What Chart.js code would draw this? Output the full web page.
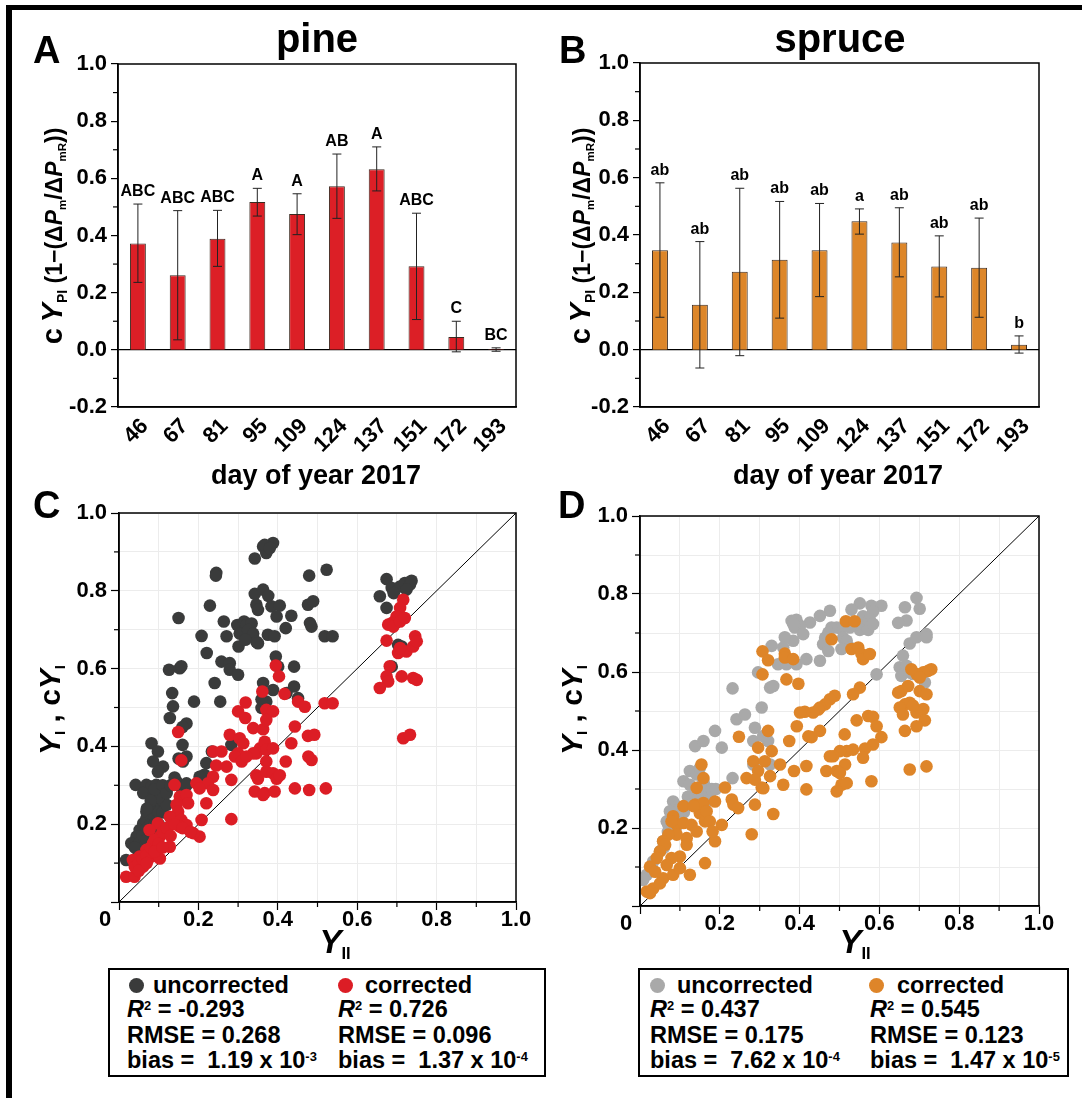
<!DOCTYPE html>
<html>
<head>
<meta charset="utf-8">
<script src="https://cdn.jsdelivr.net/npm/chart.js@4.4.1/dist/chart.umd.min.js"></script>
<style>
  html, body { margin:0; padding:0; background:#fff; }
  body { width:1082px; height:1098px; position:relative; overflow:hidden; }
  canvas { position:absolute; }
  .t { position:absolute; font-family:'Liberation Sans', Arial, sans-serif; font-weight:bold; white-space:nowrap; line-height:1; color:#000; }
  .sub { font-size:0.5em; position:relative; top:0.35em; }
  .sup { font-size:0.55em; position:relative; top:-0.55em; }
  .box { position:absolute; border:2px solid #000; box-sizing:border-box; }
  .dot { position:absolute; width:15px; height:15px; border-radius:50%; }
</style>
</head>
<body>
<div style="position:absolute;left:6px;top:5px;width:1076px;height:5px;background:#000"></div>
<div style="position:absolute;left:6px;top:5px;width:6px;height:1093px;background:#000"></div>

<canvas id="cA" width="540" height="460" style="left:0;top:0"></canvas>
<canvas id="cB" width="542" height="460" style="left:540px;top:0"></canvas>
<canvas id="cC" width="540" height="470" style="left:0;top:470px"></canvas>
<canvas id="cD" width="542" height="470" style="left:540px;top:470px"></canvas>

<!-- panel letters and titles -->
<div class="t" style="left:33px;top:31px;font-size:38px">A</div>
<div class="t" style="left:559px;top:31px;font-size:38px">B</div>
<div class="t" style="left:33px;top:486px;font-size:38px">C</div>
<div class="t" style="left:558px;top:486px;font-size:38px">D</div>
<div class="t" style="left:317px;top:18px;font-size:40px;transform:translateX(-50%)">pine</div>
<div class="t" style="left:840px;top:18px;font-size:40px;transform:translateX(-50%)">spruce</div>
<div class="t" style="left:316px;top:462px;font-size:27px;transform:translateX(-50%)">day of year 2017</div>
<div class="t" style="left:838px;top:462px;font-size:27px;transform:translateX(-50%)">day of year 2017</div>

<!-- y titles bars -->
<div class="t" style="left:52px;top:236px;font-size:23px;transform:translate(-50%,-50%) rotate(-90deg)"><span style="font-size:29px">c&thinsp;<i>Y</i></span><span style="font-size:14px;position:relative;top:5px">PI</span> (1&minus;(&Delta;<i>P</i><span class="sub">m</span>/&Delta;<i>P</i><span class="sub">mR</span>))</div>
<div class="t" style="left:580px;top:236px;font-size:23px;transform:translate(-50%,-50%) rotate(-90deg)"><span style="font-size:29px">c&thinsp;<i>Y</i></span><span style="font-size:14px;position:relative;top:5px">PI</span> (1&minus;(&Delta;<i>P</i><span class="sub">m</span>/&Delta;<i>P</i><span class="sub">mR</span>))</div>

<!-- scatter titles -->
<div class="t" style="left:50px;top:710px;font-size:30px;transform:translate(-50%,-50%) rotate(-90deg)"><i>Y</i><span class="sub">I</span> , c<i>Y</i><span class="sub">I</span></div>
<div class="t" style="left:572px;top:710px;font-size:30px;transform:translate(-50%,-50%) rotate(-90deg)"><i>Y</i><span class="sub">I</span> , c<i>Y</i><span class="sub">I</span></div>
<div class="t" style="left:335px;top:925px;font-size:33px;transform:translateX(-50%)"><i>Y</i><span class="sub">II</span></div>
<div class="t" style="left:855px;top:925px;font-size:33px;transform:translateX(-50%)"><i>Y</i><span class="sub">II</span></div>

<!-- legends -->
<div class="box" style="left:108px;top:968px;width:438px;height:109px"></div>
<div class="dot" style="left:129px;top:978px;background:#3a3b3b"></div>
<div class="t" style="left:153px;top:974px;font-size:23.5px">uncorrected</div>
<div class="t" style="left:127px;top:998px;font-size:23.5px"><i>R</i><span class="sup">2</span> = -0.293</div>
<div class="t" style="left:127px;top:1024px;font-size:23.5px">RMSE = 0.268</div>
<div class="t" style="left:127px;top:1049px;font-size:23.5px">bias = &nbsp;1.19 x 10<span class="sup">-3</span></div>
<div class="dot" style="left:338px;top:978px;background:#dc1d25"></div>
<div class="t" style="left:365px;top:974px;font-size:23.5px">corrected</div>
<div class="t" style="left:338px;top:998px;font-size:23.5px"><i>R</i><span class="sup">2</span> = 0.726</div>
<div class="t" style="left:338px;top:1024px;font-size:23.5px">RMSE = 0.096</div>
<div class="t" style="left:338px;top:1049px;font-size:23.5px">bias = &nbsp;1.37 x 10<span class="sup">-4</span></div>

<div class="box" style="left:638px;top:968px;width:431px;height:109px"></div>
<div class="dot" style="left:650px;top:978px;background:#a9a9a9"></div>
<div class="t" style="left:677px;top:974px;font-size:23.5px">uncorrected</div>
<div class="t" style="left:650px;top:998px;font-size:23.5px"><i>R</i><span class="sup">2</span> = 0.437</div>
<div class="t" style="left:650px;top:1024px;font-size:23.5px">RMSE = 0.175</div>
<div class="t" style="left:650px;top:1049px;font-size:23.5px">bias = &nbsp;7.62 x 10<span class="sup">-4</span></div>
<div class="dot" style="left:869px;top:978px;background:#de8529"></div>
<div class="t" style="left:897px;top:974px;font-size:23.5px">corrected</div>
<div class="t" style="left:870px;top:998px;font-size:23.5px"><i>R</i><span class="sup">2</span> = 0.545</div>
<div class="t" style="left:870px;top:1024px;font-size:23.5px">RMSE = 0.123</div>
<div class="t" style="left:870px;top:1049px;font-size:23.5px">bias = &nbsp;1.47 x 10<span class="sup">-5</span></div>

<script>
// ---------------- DATA ----------------
const days = ['46','67','81','95','109','124','137','151','172','193'];

const pineMean = [0.372, 0.261, 0.389, 0.517, 0.475, 0.572, 0.632, 0.292, 0.045, 0.003];
const pineHigh = [0.510, 0.487, 0.488, 0.565, 0.546, 0.685, 0.710, 0.478, 0.100, 0.007];
const pineLow  = [0.236, 0.035, 0.292, 0.468, 0.403, 0.460, 0.556, 0.106, -0.007, -0.005];
const pineLetters = ['ABC','ABC','ABC','A','A','AB','A','ABC','C','BC'];

const spruceMean = [0.347, 0.157, 0.272, 0.314, 0.347, 0.448, 0.374, 0.290, 0.286, 0.017];
const spruceHigh = [0.582, 0.377, 0.563, 0.517, 0.510, 0.491, 0.495, 0.397, 0.459, 0.048];
const spruceLow  = [0.113, -0.064, -0.021, 0.110, 0.185, 0.403, 0.254, 0.184, 0.113, -0.012];
const spruceLetters = ['ab','ab','ab','ab','ab','a','ab','ab','ab','b'];

const yBarTicks = [-0.2, 0.0, 0.2, 0.4, 0.6, 0.8, 1.0];
const scatterTicks = [0, 0.2, 0.4, 0.6, 0.8, 1.0];
const oneToOne = [[0,0],[1,1]];

const pineUncorr = [
[0.342,0.883],[0.363,0.914],[0.371,0.897],[0.388,0.923],[0.367,0.918],[0.380,0.910],
[0.245,0.846],[0.244,0.839],[0.479,0.839],[0.523,0.854],[0.229,0.762],[0.150,0.730],
[0.342,0.792],[0.363,0.803],[0.376,0.787],[0.346,0.764],[0.350,0.751],
[0.384,0.760],[0.405,0.762],[0.397,0.734],[0.434,0.736],
[0.476,0.764],[0.489,0.773],[0.481,0.717],[0.485,0.708],[0.420,0.704],
[0.264,0.721],[0.271,0.683],[0.208,0.684],[0.221,0.640],
[0.298,0.712],[0.315,0.721],[0.321,0.712],[0.334,0.716],[0.304,0.690],[0.325,0.699],[0.338,0.690],[0.346,0.669],[0.350,0.665],
[0.301,0.657],[0.318,0.674],[0.375,0.687],[0.392,0.683],[0.518,0.683],[0.538,0.683],
[0.258,0.618],[0.279,0.614],[0.279,0.597],[0.300,0.584],
[0.395,0.631],[0.401,0.605],[0.441,0.605],
[0.126,0.597],[0.153,0.601],[0.157,0.606],
[0.241,0.563],[0.363,0.563],[0.388,0.545],[0.441,0.554],[0.422,0.537],[0.451,0.524],
[0.134,0.537],[0.189,0.515],[0.255,0.515],
[0.136,0.503],[0.128,0.473],[0.170,0.459],[0.160,0.450],
[0.359,0.499],[0.371,0.515],[0.359,0.521],
[0.160,0.404],[0.170,0.374],[0.150,0.369],[0.161,0.361],
[0.082,0.408],[0.098,0.387],[0.086,0.361],[0.111,0.348],[0.098,0.335],[0.114,0.284],
[0.234,0.387],[0.283,0.404],[0.220,0.357],[0.215,0.327],[0.203,0.322],
[0.042,0.301],[0.069,0.301],[0.082,0.297],[0.094,0.301],[0.103,0.288],[0.119,0.284],[0.061,0.280],[0.086,0.271],
[0.145,0.310],[0.170,0.305],
[0.103,0.254],[0.086,0.241],[0.098,0.232],[0.069,0.232],
[0.069,0.215],[0.082,0.211],[0.061,0.202],[0.052,0.185],[0.044,0.168],[0.031,0.151],[0.018,0.108],
[0.674,0.830],[0.657,0.786],[0.674,0.756],[0.687,0.807],[0.708,0.811],[0.720,0.820],[0.733,0.816],[0.737,0.826],[0.692,0.794],[0.724,0.803],
[0.703,0.661],[0.712,0.657],[0.687,0.605],
[0.05,0.15],[0.06,0.17],[0.07,0.19],[0.08,0.20],[0.09,0.22],[0.10,0.23],[0.06,0.13],[0.07,0.16],[0.08,0.18],[0.09,0.20],[0.10,0.20],[0.11,0.23],
[0.05,0.12],[0.04,0.14],[0.12,0.25],[0.10,0.27],[0.09,0.29],[0.08,0.26],[0.07,0.24],[0.11,0.30],[0.12,0.28],[0.13,0.30],[0.14,0.32],[0.15,0.30],[0.16,0.28],[0.17,0.30]
];

const pineCorr = [
[0.716,0.777],[0.708,0.756],[0.699,0.734],[0.687,0.717],[0.678,0.713],[0.691,0.708],[0.708,0.721],[0.720,0.730],
[0.674,0.672],[0.703,0.640],[0.724,0.644],[0.741,0.657],[0.746,0.683],[0.750,0.670],[0.708,0.653],
[0.682,0.606],[0.674,0.580],[0.678,0.567],[0.657,0.550],[0.712,0.580],[0.741,0.576],[0.750,0.571],
[0.716,0.421],[0.733,0.430],[0.395,0.608],[0.403,0.580],
[0.361,0.541],[0.417,0.535],[0.451,0.515],[0.468,0.502],[0.518,0.511],[0.538,0.511],
[0.319,0.513],[0.300,0.490],[0.318,0.473],[0.371,0.494],[0.388,0.490],
[0.338,0.447],[0.363,0.444],[0.371,0.468],[0.443,0.451],
[0.279,0.430],[0.304,0.421],[0.313,0.408],[0.300,0.382],[0.292,0.374],[0.309,0.361],
[0.355,0.395],[0.346,0.382],[0.367,0.412],[0.371,0.391],[0.338,0.382],[0.321,0.374],[0.388,0.395],
[0.476,0.427],[0.492,0.430],[0.434,0.408],[0.477,0.374],[0.485,0.365],
[0.371,0.361],[0.420,0.361],[0.346,0.326],[0.350,0.317],[0.371,0.335],[0.388,0.331],[0.397,0.317],[0.405,0.326],
[0.342,0.284],[0.367,0.280],[0.392,0.284],[0.363,0.275],[0.443,0.292],[0.479,0.288],[0.521,0.292],
[0.283,0.213],[0.149,0.437],[0.157,0.364],
[0.237,0.387],[0.258,0.387],[0.271,0.348],[0.283,0.314],[0.245,0.351],[0.237,0.322],[0.224,0.305],[0.237,0.288],[0.220,0.254],
[0.195,0.305],[0.203,0.292],[0.208,0.211],[0.203,0.168],
[0.140,0.301],[0.153,0.271],[0.170,0.275],[0.174,0.254],[0.145,0.250],
[0.149,0.232],[0.128,0.219],[0.157,0.211],[0.170,0.198],[0.153,0.194],[0.187,0.177],[0.128,0.142],
[0.098,0.202],[0.077,0.185],[0.103,0.168],[0.086,0.151],[0.069,0.134],[0.052,0.117],[0.035,0.108],[0.018,0.065],[0.039,0.065],[0.061,0.091],[0.082,0.117],[0.094,0.125],[0.103,0.112],
[0.04,0.09],[0.05,0.10],[0.06,0.11],[0.07,0.12],[0.08,0.14],[0.09,0.16],[0.10,0.15],[0.11,0.18],[0.12,0.19],[0.14,0.20],[0.16,0.19],[0.18,0.18],[0.05,0.08],[0.07,0.10],[0.09,0.13],[0.11,0.14],[0.13,0.17]
];

const spruceUncorr = [
[0.693,0.790],[0.701,0.762],[0.664,0.766],[0.668,0.732],[0.647,0.726],[0.676,0.673],[0.693,0.689],[0.718,0.697],[0.718,0.689],
[0.659,0.642],[0.651,0.612],[0.655,0.590],[0.668,0.616],[0.676,0.599],[0.684,0.595],[0.714,0.573],[0.593,0.594],
[0.605,0.770],[0.580,0.770],[0.584,0.755],[0.551,0.776],[0.530,0.760],[0.559,0.743],[0.576,0.734],[0.564,0.721],[0.551,0.708],[0.543,0.723],[0.572,0.708],[0.584,0.723],
[0.526,0.714],[0.505,0.710],[0.493,0.714],[0.480,0.714],[0.472,0.701],[0.464,0.688],[0.509,0.688],[0.518,0.680],[0.505,0.659],[0.526,0.663],
[0.476,0.757],[0.451,0.744],[0.426,0.727],[0.401,0.719],[0.388,0.714],[0.380,0.731],[0.392,0.734],[0.384,0.723],
[0.409,0.697],[0.384,0.680],[0.363,0.689],[0.359,0.663],[0.346,0.620],[0.367,0.620],[0.392,0.620],[0.417,0.633],[0.451,0.629],[0.459,0.671],[0.472,0.654],
[0.330,0.667],[0.326,0.560],[0.334,0.564],[0.296,0.599],[0.305,0.509],
[0.232,0.558],[0.242,0.479],[0.263,0.491],[0.188,0.449],[0.205,0.406],
[0.288,0.457],[0.284,0.423],[0.309,0.436],[0.321,0.423],[0.284,0.363],[0.326,0.363],
[0.138,0.410],[0.159,0.423],[0.232,0.328],
[0.125,0.346],[0.142,0.337],[0.150,0.354],[0.109,0.320],[0.125,0.311],[0.142,0.294],[0.159,0.320],[0.167,0.303],[0.179,0.294],[0.175,0.277],
[0.083,0.268],[0.092,0.256],[0.075,0.243],[0.067,0.217],[0.071,0.208],[0.058,0.166],[0.033,0.114],[0.017,0.080],[0.008,0.067],
[0.10,0.25],[0.12,0.28],[0.14,0.30],[0.16,0.31],[0.18,0.30],[0.09,0.20],[0.10,0.22],[0.11,0.24],[0.13,0.26],[0.15,0.28],[0.17,0.27],
[0.05,0.14],[0.06,0.15],[0.07,0.19],[0.08,0.21],[0.19,0.30]
];

const spruceCorr = [
[0.730,0.607],[0.722,0.603],[0.710,0.599],[0.693,0.595],[0.680,0.607],[0.701,0.586],[0.672,0.564],[0.655,0.551],[0.647,0.547],
[0.701,0.551],[0.718,0.543],[0.710,0.505],[0.693,0.496],[0.676,0.521],[0.664,0.517],[0.651,0.509],[0.659,0.491],[0.684,0.514],
[0.714,0.476],[0.693,0.461],[0.664,0.449],[0.676,0.350],[0.718,0.358],
[0.516,0.730],[0.538,0.730],[0.480,0.684],
[0.530,0.659],[0.547,0.663],[0.555,0.646],[0.559,0.633],[0.576,0.646],
[0.307,0.653],[0.321,0.630],[0.363,0.647],[0.363,0.637],[0.384,0.633],[0.367,0.581],[0.397,0.570],[0.307,0.594],
[0.551,0.560],[0.534,0.543],[0.488,0.539],[0.476,0.530],[0.464,0.517],[0.451,0.509],[0.447,0.504],[0.434,0.496],
[0.413,0.498],[0.401,0.496],[0.393,0.461],[0.451,0.449],[0.430,0.433],[0.422,0.435],
[0.543,0.476],[0.572,0.487],[0.584,0.485],[0.593,0.461],[0.605,0.433],[0.584,0.414],[0.564,0.404],[0.559,0.380],[0.580,0.320],
[0.534,0.401],[0.518,0.397],[0.501,0.397],[0.484,0.384],[0.476,0.384],[0.514,0.363],[0.505,0.311],[0.518,0.315],[0.467,0.346],[0.493,0.346],[0.501,0.341],[0.493,0.294],
[0.513,0.440],
[0.321,0.449],[0.330,0.397],[0.296,0.406],[0.284,0.371],[0.296,0.346],[0.313,0.371],[0.326,0.333],[0.305,0.304],[0.267,0.328],[0.288,0.324],[0.309,0.302],
[0.359,0.311],[0.351,0.363],[0.386,0.346],[0.417,0.359],[0.417,0.299],[0.334,0.236],[0.374,0.423],[0.248,0.434],
[0.213,0.304],[0.230,0.273],[0.234,0.260],[0.246,0.251],[0.288,0.260],[0.280,0.184],[0.205,0.208],[0.188,0.166],
[0.154,0.363],[0.159,0.328],[0.142,0.303],[0.138,0.260],[0.159,0.264],[0.150,0.238],[0.163,0.217],[0.167,0.243],[0.175,0.217],[0.188,0.268],[0.182,0.191],[0.163,0.110],
[0.109,0.256],[0.134,0.256],[0.083,0.230],[0.092,0.208],[0.079,0.217],[0.109,0.213],[0.129,0.208],[0.142,0.191],[0.117,0.174],[0.092,0.183],[0.071,0.183],
[0.058,0.166],[0.063,0.157],[0.050,0.140],[0.042,0.123],[0.025,0.101],[0.038,0.088],[0.058,0.071],[0.033,0.045],[0.017,0.037],[0.025,0.033],
[0.050,0.058],[0.083,0.080],[0.100,0.097],[0.125,0.080],[0.100,0.127],[0.079,0.123],[0.067,0.105],[0.117,0.157]
];

// ---------------- STYLE / PLUGINS ----------------
const FONT = "'Liberation Sans', Arial, sans-serif";
Chart.defaults.font.family = FONT;
Chart.defaults.color = '#000';

const isMajor = v => Math.round(v * 10) % 2 === 0;
const fmt = v => (Math.abs(v) < 1e-9 ? 0 : v).toFixed(1);

const deco = {
  id: 'deco',
  afterDraw(chart, args, opts) {
    const ctx = chart.ctx, a = chart.chartArea;
    ctx.save();
    ctx.strokeStyle = '#000';
    ctx.lineWidth = 1.5;
    ctx.strokeRect(a.left, a.top, a.right - a.left, a.bottom - a.top);
    ctx.lineWidth = 1.2;
    ['x', 'y'].forEach(id => {
      const s = chart.scales[id];
      if (!s || s.type !== 'linear') return;
      s.ticks.forEach(t => {
        if (isMajor(t.value)) return;
        const p = s.getPixelForValue(t.value);
        ctx.beginPath();
        if (id === 'y') { ctx.moveTo(a.left, p); ctx.lineTo(a.left - 5, p); }
        else { ctx.moveTo(p, a.bottom); ctx.lineTo(p, a.bottom + 5); }
        ctx.stroke();
      });
    });
    if (opts && opts.originLabel) {
      ctx.fillStyle = '#000';
      ctx.font = 'bold 22px ' + FONT;
      ctx.textAlign = 'center';
      ctx.textBaseline = 'middle';
      ctx.fillText('0', chart.scales.x.getPixelForValue(0) - 14, a.bottom + 18);
    }
    ctx.restore();
  }
};

const errBars = {
  id: 'errBars',
  afterDatasetsDraw(chart, args, opts) {
    if (!opts || !opts.low) return;
    const ctx = chart.ctx, ys = chart.scales.y;
    const meta = chart.getDatasetMeta(0);
    ctx.save();
    meta.data.forEach((bar, i) => {
      const x = bar.x;
      const yh = ys.getPixelForValue(opts.high[i]);
      const yl = ys.getPixelForValue(opts.low[i]);
      ctx.strokeStyle = '#222';
      ctx.lineWidth = 1;
      ctx.beginPath();
      ctx.moveTo(x, yh); ctx.lineTo(x, yl);
      ctx.moveTo(x - 4.5, yh); ctx.lineTo(x + 4.5, yh);
      ctx.moveTo(x - 4.5, yl); ctx.lineTo(x + 4.5, yl);
      ctx.stroke();
      ctx.fillStyle = '#000';
      ctx.font = 'bold 16px ' + FONT;
      ctx.textAlign = 'center';
      ctx.textBaseline = 'alphabetic';
      ctx.fillText(opts.letters[i], x, yh - 8);
    });
    ctx.restore();
  }
};

function barChart(id, mean, low, high, letters, color, pad, yW) {
  return new Chart(document.getElementById(id), {
    type: 'bar',
    data: {
      labels: days,
      datasets: [{ data: mean, backgroundColor: color, borderColor: '#3a2a20', borderWidth: 1,
        barPercentage: 0.4, categoryPercentage: 1.0 }]
    },
    options: {
      responsive: false, animation: false, devicePixelRatio: 1,
      layout: { padding: pad },
      plugins: { legend: { display: false }, tooltip: { enabled: false },
        errBars: { low, high, letters }, deco: {} },
      scales: {
        x: {
          grid: { display: false },
          border: { display: true, color: '#000', width: 1.5 },
          ticks: { minRotation: 45, maxRotation: 45, padding: 0, labelOffset: 7,
            font: { size: 22, weight: 'bold', lineHeight: 1 }, color: '#000' },
          afterFit: s => { s.height = 53; }
        },
        y: {
          min: yBarTicks[0], max: yBarTicks[yBarTicks.length - 1],
          ticks: { stepSize: 0.1, autoSkip: false, padding: 4,
            font: { size: 22, weight: 'bold' }, color: '#000',
            callback: v => isMajor(v) ? fmt(v) : '' },
          grid: {
            color: c => (c.tick && Math.abs(c.tick.value) < 1e-9) ? '#000' : 'rgba(0,0,0,0)',
            lineWidth: 1.2,
            tickColor: c => (c.tick && isMajor(c.tick.value)) ? '#000' : 'rgba(0,0,0,0)',
            tickLength: 7, tickWidth: 1.2
          },
          border: { display: true, color: '#000', width: 1.5 },
          afterFit: s => { s.width = yW; }
        }
      }
    },
    plugins: [errBars, deco]
  });
}

function scatterChart(id, unc, cor, cU, cC, pad, yW, xH) {
  const pts = arr => arr.map(p => ({ x: p[0], y: p[1] }));
  return new Chart(document.getElementById(id), {
    type: 'scatter',
    data: {
      datasets: [
        { data: pts(cor), backgroundColor: cC, borderWidth: 0, pointRadius: 6.3, order: 0 },
        { data: pts(unc), backgroundColor: cU, borderWidth: 0, pointRadius: 6.3, order: 1 },
        { type: 'line', data: pts(oneToOne), borderColor: '#000', borderWidth: 1, pointRadius: 0, order: 2 }
      ]
    },
    options: {
      responsive: false, animation: false, devicePixelRatio: 1,
      layout: { padding: pad },
      plugins: { legend: { display: false }, tooltip: { enabled: false }, deco: { originLabel: true } },
      scales: {
        x: {
          type: 'linear', min: scatterTicks[0], max: scatterTicks[scatterTicks.length - 1],
          ticks: { stepSize: 0.1, autoSkip: false, maxRotation: 0, padding: -1,
            font: { size: 22, weight: 'bold', lineHeight: 1 }, color: '#000',
            callback: v => (isMajor(v) && Math.abs(v) > 1e-9) ? fmt(v) : '' },
          grid: { color: '#ececec', lineWidth: 1,
            tickColor: c => (c.tick && isMajor(c.tick.value)) ? '#000' : 'rgba(0,0,0,0)',
            tickLength: 8, tickWidth: 1.2 },
          border: { display: true, color: '#000', width: 1.5 },
          afterFit: s => { s.height = xH; }
        },
        y: {
          type: 'linear', min: scatterTicks[0], max: scatterTicks[scatterTicks.length - 1],
          ticks: { stepSize: 0.1, autoSkip: false, padding: 4,
            font: { size: 22, weight: 'bold' }, color: '#000',
            callback: v => (isMajor(v) && Math.abs(v) > 1e-9) ? fmt(v) : '' },
          grid: { color: '#ececec', lineWidth: 1,
            tickColor: c => (c.tick && isMajor(c.tick.value)) ? '#000' : 'rgba(0,0,0,0)',
            tickLength: 8, tickWidth: 1.2 },
          border: { display: true, color: '#000', width: 1.5 },
          afterFit: s => { s.width = yW; }
        }
      }
    },
    plugins: [deco]
  });
}

barChart('cA', pineMean, pineLow, pineHigh, pineLetters, '#dc1f26', { left: 0, top: 64, right: 24, bottom: 0 }, 118);
barChart('cB', spruceMean, spruceLow, spruceHigh, spruceLetters, '#dd8629', { left: 0, top: 63, right: 43, bottom: 0 }, 100);
scatterChart('cC', pineUncorr, pineCorr, '#3a3b3b', '#dc1d25', { left: 0, top: 43, right: 24, bottom: 0 }, 119, 38);
scatterChart('cD', spruceUncorr, spruceCorr, '#a9a9a9', '#de8529', { left: 0, top: 46, right: 43, bottom: 0 }, 100, 34);
</script>
</body>
</html>
